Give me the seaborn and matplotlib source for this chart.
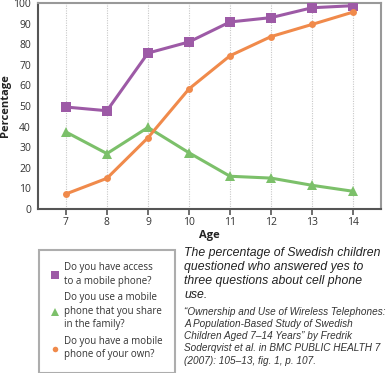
import matplotlib
matplotlib.use("Agg")
import matplotlib.pyplot as plt
import seaborn as sns
import pandas as pd
from matplotlib.lines import Line2D

ages = [7, 8, 9, 10, 11, 12, 13, 14]
access = [49.5, 47.7, 75.7, 81.1, 90.8, 92.9, 97.7, 98.7]
share = [37.4, 26.9, 39.6, 27.3, 15.9, 15.0, 11.5, 8.6]
own = [7.3, 14.9, 34.6, 58.3, 74.4, 83.7, 89.6, 95.6]
labels = ["Do you have access\nto a mobile phone?",
          "Do you use a mobile\nphone that you share\nin the family?",
          "Do you have a mobile\nphone of your own?"]
yticks = [0, 10, 20, 30, 40, 50, 60, 70, 80, 90, 100]
caption = ("The percentage of Swedish children\nquestioned who answered yes to\n"
           "three questions about cell phone\nuse.")
citation = ("\u201cOwnership and Use of Wireless Telephones:\n"
            "A Population-Based Study of Swedish\n"
            "Children Aged 7\u201314 Years\u201d by Fredrik\n"
            "Soderqvist et al. in BMC PUBLIC HEALTH 7\n"
            "(2007): 105\u201313, fig. 1, p. 107.")

colors = ["#9D5AA6", "#7CC06A", "#F08A4B"]
markers = ["s", "^", "o"]
msizes = [7, 6.5, 5]

sns.set_theme(style="white")
plt.rcParams['font.family'] = ['Open Sans', 'DejaVu Sans']

df = pd.DataFrame({
    "Age": ages * 3,
    "Percentage": access + share + own,
    "Series": [labels[0]] * 8 + [labels[1]] * 8 + [labels[2]] * 8,
})

fig = plt.figure(figsize=(3.86, 3.73), dpi=100)
ax = fig.add_axes([38 / 386, 1 - 209 / 373, 343 / 386, 206 / 373])

for i, lab in enumerate(labels):
    sub = df[df["Series"] == lab]
    sns.lineplot(data=sub, x="Age", y="Percentage", ax=ax, color=colors[i],
                 marker=markers[i], markersize=msizes[i], markeredgewidth=0,
                 linewidth=2.2, legend=False, zorder=3 + i)

ax.set_xlim(6.32, 14.68)
ax.set_ylim(0, 100)
ax.set_xticks(ages)
ax.set_yticks(yticks)
ax.set_xticklabels([str(a) for a in ages])
ax.set_yticklabels([str(t) for t in yticks])
ax.tick_params(axis='x', length=4, width=1.2, color="#555555", labelsize=7.5,
               labelcolor="#333333", pad=2, direction='out')
ax.tick_params(axis='y', length=0, labelsize=7.5, labelcolor="#333333", pad=5)
ax.xaxis.set_ticks_position('bottom')
for x in ages:
    ax.axvline(x, color="#C8C8C8", linestyle=(0, (1, 1.2)), linewidth=0.8, zorder=1)

ax.set_xlabel("Age", fontsize=8, fontweight='bold', labelpad=1, color="#222222")
ax.set_ylabel("Percentage", fontsize=8, fontweight='bold', labelpad=2, color="#222222")

for s in ["left", "bottom"]:
    ax.spines[s].set_color("#555555")
    ax.spines[s].set_linewidth(1.5)
for s in ["top", "right"]:
    ax.spines[s].set_color("#999999")
    ax.spines[s].set_linewidth(1.5)

handles = [Line2D([], [], color=colors[i], marker=markers[i], linestyle='None',
                  markersize=msizes[i] - 1, markeredgewidth=0) for i in range(3)]
leg = fig.legend(handles, labels, loc='upper left',
                 bbox_to_anchor=(39 / 386, 1 - 250 / 373),
                 frameon=True, fancybox=False, fontsize=7.0,
                 handlelength=0.8, handletextpad=0.5, labelspacing=0.6,
                 borderpad=1.25, borderaxespad=0, labelcolor="#333333")
for t in leg.get_texts():
    t.set_linespacing(1.3)
leg.get_frame().set_edgecolor("#999999")
leg.get_frame().set_linewidth(1.5)

fig.text(184 / 386, 1 - 247 / 373, caption, ha='left', va='top', fontsize=8.8,
         style='italic', family=['Liberation Sans', 'DejaVu Sans'],
         color="#222222", linespacing=1.24)
fig.text(184 / 386, 1 - 307 / 373, citation, ha='left', va='top', fontsize=7.2,
         style='italic', family=['Liberation Sans Narrow', 'Liberation Sans', 'DejaVu Sans'],
         color="#333333", linespacing=1.27)

fig.savefig("out.png", dpi=100)
